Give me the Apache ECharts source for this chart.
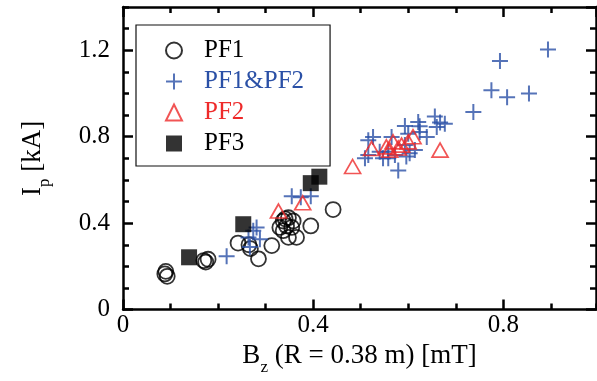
<!DOCTYPE html>
<html>
<head>
<meta charset="utf-8">
<script src="https://cdn.jsdelivr.net/npm/echarts@6/dist/echarts.min.js"></script>
<style>
  html, body { margin: 0; padding: 0; background: #fff; }
  #chart { width: 597px; height: 381px; }
</style>
</head>
<body>
<div id="chart"></div>
<script>
// Plasma current I_p versus vertical field B_z for each coil configuration
const pf1 = [
  [0.090, 0.177], [0.093, 0.154], [0.088, 0.165],
  [0.170, 0.227], [0.179, 0.233], [0.174, 0.220],
  [0.242, 0.308], [0.265, 0.300], [0.268, 0.282], [0.285, 0.235], [0.313, 0.296],
  [0.330, 0.380], [0.337, 0.410], [0.348, 0.425], [0.344, 0.387], [0.337, 0.365],
  [0.355, 0.380], [0.348, 0.334], [0.365, 0.334], [0.358, 0.410], [0.341, 0.420],
  [0.395, 0.387], [0.442, 0.463]
];
const pf1pf2 = [
  [0.218, 0.247], [0.264, 0.334], [0.267, 0.290], [0.274, 0.365], [0.281, 0.380], [0.288, 0.326],
  [0.355, 0.525], [0.374, 0.520], [0.395, 0.525],
  [0.509, 0.700], [0.516, 0.715], [0.516, 0.784], [0.526, 0.799], [0.540, 0.730], [0.547, 0.700],
  [0.558, 0.700], [0.558, 0.730], [0.565, 0.799], [0.572, 0.715], [0.579, 0.643], [0.593, 0.761],
  [0.593, 0.850], [0.596, 0.708], [0.600, 0.814], [0.603, 0.723], [0.614, 0.738], [0.624, 0.822],
  [0.624, 0.848], [0.621, 0.868], [0.639, 0.799], [0.656, 0.893], [0.660, 0.845], [0.667, 0.866],
  [0.677, 0.860], [0.737, 0.914], [0.775, 1.015], [0.793, 1.150], [0.808, 0.982], [0.854, 1.000],
  [0.894, 1.203]
];
const pf2 = [
  [0.327, 0.456], [0.378, 0.494], [0.483, 0.662], [0.523, 0.745], [0.554, 0.753], [0.561, 0.738],
  [0.568, 0.776], [0.579, 0.748], [0.586, 0.761], [0.600, 0.776], [0.610, 0.800], [0.667, 0.738]
];
const pf3 = [
  [0.139, 0.242], [0.253, 0.395], [0.395, 0.585], [0.413, 0.615]
];

const xTickLabels = [0, 0.4, 0.8];
const yTickLabels = [0, 0.4, 0.8, 1.2];
const xMax = 0.995;
const yMax = 1.4;

const FONT = '"Liberation Serif", "Times New Roman", serif';
const BLUE = '#2a50a6';
const RED = '#ee2a2a';

const near = (v, list) => list.some(t => Math.abs(t - v) < 1e-6);
const fmt = v => (v === 0 ? '0' : v.toFixed(1));

// One value axis per side and tick level: labelled major ticks every 0.4, minor ticks every 0.1
function valueAxis(dim, position, interval, major, withLabels, extra) {
  const isX = dim === 'x';
  const ticks = isX ? xTickLabels : yTickLabels;
  return Object.assign({
    type: 'value',
    position: position,
    min: 0,
    max: isX ? xMax : yMax,
    interval: interval,
    axisLine: { show: major, onZero: false, lineStyle: { color: '#000', width: 2.5 } },
    axisTick: { show: true, inside: true, length: major ? 10 : 6, lineStyle: { color: '#000', width: 2.5 } },
    axisLabel: {
      show: withLabels,
      showMaxLabel: false,
      margin: isX ? 3 : 13,
      color: '#000',
      fontFamily: FONT,
      fontSize: 25,
      formatter: v => (near(v, ticks) ? fmt(v) : '')
    },
    splitLine: { show: false }
  }, extra || {});
}

const chart = echarts.init(document.getElementById('chart'));

const nameRich = {
  m: { fontFamily: FONT, fontSize: 27, color: '#000', lineHeight: 27, verticalAlign: 'middle' },
  s: { fontFamily: FONT, fontSize: 17, color: '#000', lineHeight: 40, verticalAlign: 'bottom' }
};

chart.setOption({
  animation: false,
  backgroundColor: '#fff',
  grid: { left: 123, right: 1, top: 7, bottom: 68 },
  xAxis: [
    valueAxis('x', 'bottom', 0.4, true, true, {
      name: '{m|B}{s|z}{m| (R = 0.38 m) [mT]}',
      nameLocation: 'middle',
      nameGap: 23,
      nameTextStyle: { rich: nameRich }
    }),
    valueAxis('x', 'bottom', 0.1, false, false),
    valueAxis('x', 'top', 0.1, false, false),
    valueAxis('x', 'top', 0.4, true, false)
  ],
  yAxis: [
    valueAxis('y', 'left', 0.4, true, true, {
      name: '{m|I}{s|p}{m| [kA]}',
      nameLocation: 'middle',
      nameRotate: 90,
      nameGap: 70,
      nameTextStyle: { rich: nameRich }
    }),
    valueAxis('y', 'left', 0.1, false, false),
    valueAxis('y', 'right', 0.1, false, false),
    valueAxis('y', 'right', 0.4, true, false)
  ],
  legend: {
    orient: 'vertical',
    left: 136,
    top: 25,
    padding: [13, 26, 10, 29],
    itemGap: 6,
    itemWidth: 16,
    itemHeight: 16,
    borderColor: '#111',
    borderWidth: 1.2,
    backgroundColor: '#fff',
    textStyle: { fontFamily: FONT, fontSize: 25, color: '#000', padding: [0, 0, 0, 17] },
    data: [
      { name: 'PF1', textStyle: { color: '#000' } },
      { name: 'PF1&PF2', textStyle: { color: BLUE } },
      { name: 'PF2', textStyle: { color: RED } },
      { name: 'PF3', textStyle: { color: '#000' } }
    ]
  },
  series: [
    {
      name: 'PF1', type: 'scatter', data: pf1,
      symbol: 'circle', symbolSize: 15,
      itemStyle: { color: 'rgba(0,0,0,0)', borderColor: '#000', borderWidth: 1.8 }
    },
    {
      name: 'PF1&PF2', type: 'scatter', data: pf1pf2,
      symbol: 'path://M0,8H16M8,0V16', symbolSize: 16,
      itemStyle: { color: 'rgba(0,0,0,0)', borderColor: BLUE, borderWidth: 2 }
    },
    {
      name: 'PF2', type: 'scatter', data: pf2,
      symbol: 'triangle', symbolSize: [16, 14],
      itemStyle: { color: 'rgba(0,0,0,0)', borderColor: RED, borderWidth: 1.7 }
    },
    {
      name: 'PF3', type: 'scatter', data: pf3,
      symbol: 'rect', symbolSize: 16,
      itemStyle: { color: '#000', borderColor: '#000', borderWidth: 0 }
    }
  ]
});
</script>
</body>
</html>
